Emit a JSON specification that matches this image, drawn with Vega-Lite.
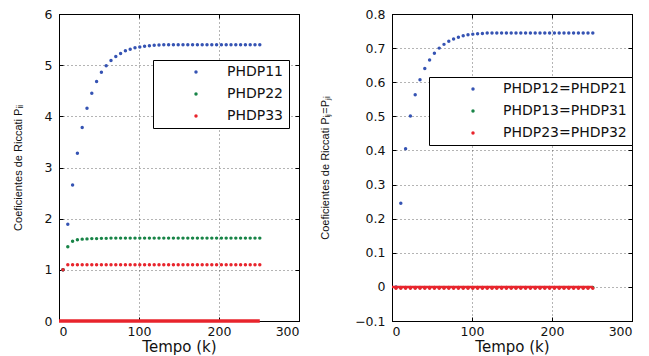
{
  "$schema": "https://vega.github.io/schema/vega-lite/v6.json",
  "background": "white",
  "padding": {"left": 11, "top": 7, "right": 0, "bottom": 0},
  "config": {
    "view": {"stroke": "black", "strokeWidth": 1},
    "axis": {
      "labelFont": "DejaVu Sans", "labelFontSize": 12.5, "labelColor": "#111",
      "domainColor": "black", "tickColor": "black", "tickSize": -4,
      "gridColor": "#444", "gridDash": [1, 3], "gridOpacity": 0.8,
      "titleFont": "DejaVu Sans", "titleFontWeight": "normal", "titleColor": "#111"
    },
    "axisX": {"labelPadding": 8},
    "axisY": {"labelPadding": 11},
    "legend": {
      "orient": "none", "title": null, "strokeColor": "black", "fillColor": "white",
      "padding": 5, "rowPadding": 8, "labelFont": "DejaVu Sans", "labelFontSize": 14,
      "labelColor": "#111", "symbolSize": 12, "symbolType": "circle", "labelLimit": 400
    }
  },
  "spacing": 93,
  "bounds": "flush",
  "resolve": {
    "scale": {"color": "independent", "x": "independent", "y": "independent"},
    "legend": {"color": "independent"}
  },
  "hconcat": [
    {
      "width": 240, "height": 307,
      "resolve": {"axis": {"x": "independent", "y": "independent"}},
      "layer": [
        {
          "data": {"values": [
            {"k":5,"PHDP11":1.0,"PHDP22":1.0,"PHDP33":1.0},
            {"k":11,"PHDP11":1.89,"PHDP22":1.45,"PHDP33":1.1},
            {"k":17,"PHDP11":2.66,"PHDP22":1.56,"PHDP33":1.1},
            {"k":23,"PHDP11":3.28,"PHDP22":1.59,"PHDP33":1.1},
            {"k":29,"PHDP11":3.78,"PHDP22":1.6,"PHDP33":1.1},
            {"k":35,"PHDP11":4.16,"PHDP22":1.605,"PHDP33":1.1},
            {"k":41,"PHDP11":4.45,"PHDP22":1.61,"PHDP33":1.1},
            {"k":47,"PHDP11":4.68,"PHDP22":1.61,"PHDP33":1.1},
            {"k":53,"PHDP11":4.86,"PHDP22":1.615,"PHDP33":1.1},
            {"k":59,"PHDP11":4.99,"PHDP22":1.615,"PHDP33":1.1},
            {"k":65,"PHDP11":5.09,"PHDP22":1.62,"PHDP33":1.1},
            {"k":71,"PHDP11":5.17,"PHDP22":1.62,"PHDP33":1.1},
            {"k":77,"PHDP11":5.23,"PHDP22":1.62,"PHDP33":1.1},
            {"k":83,"PHDP11":5.28,"PHDP22":1.62,"PHDP33":1.1},
            {"k":89,"PHDP11":5.31,"PHDP22":1.62,"PHDP33":1.1},
            {"k":95,"PHDP11":5.34,"PHDP22":1.62,"PHDP33":1.1},
            {"k":101,"PHDP11":5.355,"PHDP22":1.62,"PHDP33":1.1},
            {"k":107,"PHDP11":5.37,"PHDP22":1.62,"PHDP33":1.1},
            {"k":113,"PHDP11":5.38,"PHDP22":1.62,"PHDP33":1.1},
            {"k":119,"PHDP11":5.39,"PHDP22":1.62,"PHDP33":1.1},
            {"k":125,"PHDP11":5.395,"PHDP22":1.62,"PHDP33":1.1},
            {"k":131,"PHDP11":5.4,"PHDP22":1.62,"PHDP33":1.1},
            {"k":137,"PHDP11":5.4,"PHDP22":1.62,"PHDP33":1.1},
            {"k":143,"PHDP11":5.4,"PHDP22":1.62,"PHDP33":1.1},
            {"k":149,"PHDP11":5.4,"PHDP22":1.62,"PHDP33":1.1},
            {"k":155,"PHDP11":5.4,"PHDP22":1.62,"PHDP33":1.1},
            {"k":161,"PHDP11":5.4,"PHDP22":1.62,"PHDP33":1.1},
            {"k":167,"PHDP11":5.4,"PHDP22":1.62,"PHDP33":1.1},
            {"k":173,"PHDP11":5.4,"PHDP22":1.62,"PHDP33":1.1},
            {"k":179,"PHDP11":5.4,"PHDP22":1.62,"PHDP33":1.1},
            {"k":185,"PHDP11":5.4,"PHDP22":1.62,"PHDP33":1.1},
            {"k":191,"PHDP11":5.4,"PHDP22":1.62,"PHDP33":1.1},
            {"k":197,"PHDP11":5.4,"PHDP22":1.62,"PHDP33":1.1},
            {"k":203,"PHDP11":5.4,"PHDP22":1.62,"PHDP33":1.1},
            {"k":209,"PHDP11":5.4,"PHDP22":1.62,"PHDP33":1.1},
            {"k":215,"PHDP11":5.4,"PHDP22":1.62,"PHDP33":1.1},
            {"k":221,"PHDP11":5.4,"PHDP22":1.62,"PHDP33":1.1},
            {"k":227,"PHDP11":5.4,"PHDP22":1.62,"PHDP33":1.1},
            {"k":233,"PHDP11":5.4,"PHDP22":1.62,"PHDP33":1.1},
            {"k":239,"PHDP11":5.4,"PHDP22":1.62,"PHDP33":1.1},
            {"k":245,"PHDP11":5.4,"PHDP22":1.62,"PHDP33":1.1},
            {"k":251,"PHDP11":5.4,"PHDP22":1.62,"PHDP33":1.1}
          ]},
          "transform": [{"fold": ["PHDP11", "PHDP22", "PHDP33"], "as": ["serie", "v"]}],
          "mark": {"type": "point", "filled": true, "shape": "circle", "size": 12, "opacity": 1},
          "encoding": {
            "x": {"field": "k", "type": "quantitative",
                  "scale": {"domain": [0, 300], "nice": false},
                  "axis": {"values": [0, 100, 200, 300], "title": "Tempo (k)", "grid": true, "titleFontSize": 15, "titlePadding": 2}},
            "y": {"field": "v", "type": "quantitative",
                  "scale": {"domain": [0, 6], "nice": false},
                  "axis": {"values": [0, 1, 2, 3, 4, 5, 6], "title": "Coeficientes de Riccati Pᵢᵢ", "grid": true,
                           "titleFont": "Liberation Sans, Arial, sans-serif", "titleFontSize": 11, "titlePadding": 21}},
            "color": {"field": "serie", "type": "nominal",
                      "scale": {"domain": ["PHDP11", "PHDP22", "PHDP33"], "range": ["#3553b3", "#188447", "#e8242c"]},
                      "legend": {"legendX": 94, "legendY": 46, "symbolOffset": 31, "labelOffset": 24}}
          }
        },
        {
          "data": {"values": [{"k": 0, "v": 0}, {"k": 251, "v": 0}]},
          "mark": {"type": "line", "color": "#e8242c", "strokeWidth": 3.5},
          "encoding": {
            "x": {"field": "k", "type": "quantitative", "scale": {"domain": [0, 300], "nice": false},
                  "axis": {"orient": "top", "values": [0, 100, 200, 300], "labels": false, "title": null, "grid": false}},
            "y": {"field": "v", "type": "quantitative", "scale": {"domain": [0, 6], "nice": false},
                  "axis": {"orient": "right", "values": [0, 1, 2, 3, 4, 5, 6], "labels": false, "title": null, "grid": false}}
          }
        }
      ]
    },
    {
      "width": 240, "height": 307,
      "resolve": {"axis": {"x": "independent", "y": "independent"}},
      "layer": [
        {
          "data": {"values": [
            {"k":5,"PHDP12=PHDP21":0.0,"PHDP13=PHDP31":-0.002,"PHDP23=PHDP32":-0.004},
            {"k":11,"PHDP12=PHDP21":0.245,"PHDP13=PHDP31":-0.002,"PHDP23=PHDP32":-0.004},
            {"k":17,"PHDP12=PHDP21":0.405,"PHDP13=PHDP31":-0.002,"PHDP23=PHDP32":-0.004},
            {"k":23,"PHDP12=PHDP21":0.501,"PHDP13=PHDP31":-0.002,"PHDP23=PHDP32":-0.004},
            {"k":29,"PHDP12=PHDP21":0.563,"PHDP13=PHDP31":-0.002,"PHDP23=PHDP32":-0.004},
            {"k":35,"PHDP12=PHDP21":0.607,"PHDP13=PHDP31":-0.002,"PHDP23=PHDP32":-0.004},
            {"k":41,"PHDP12=PHDP21":0.64,"PHDP13=PHDP31":-0.002,"PHDP23=PHDP32":-0.004},
            {"k":47,"PHDP12=PHDP21":0.665,"PHDP13=PHDP31":-0.002,"PHDP23=PHDP32":-0.004},
            {"k":53,"PHDP12=PHDP21":0.685,"PHDP13=PHDP31":-0.002,"PHDP23=PHDP32":-0.004},
            {"k":59,"PHDP12=PHDP21":0.7,"PHDP13=PHDP31":-0.002,"PHDP23=PHDP32":-0.004},
            {"k":65,"PHDP12=PHDP21":0.711,"PHDP13=PHDP31":-0.002,"PHDP23=PHDP32":-0.004},
            {"k":71,"PHDP12=PHDP21":0.72,"PHDP13=PHDP31":-0.002,"PHDP23=PHDP32":-0.004},
            {"k":77,"PHDP12=PHDP21":0.727,"PHDP13=PHDP31":-0.002,"PHDP23=PHDP32":-0.004},
            {"k":83,"PHDP12=PHDP21":0.732,"PHDP13=PHDP31":-0.002,"PHDP23=PHDP32":-0.004},
            {"k":89,"PHDP12=PHDP21":0.736,"PHDP13=PHDP31":-0.002,"PHDP23=PHDP32":-0.004},
            {"k":95,"PHDP12=PHDP21":0.739,"PHDP13=PHDP31":-0.002,"PHDP23=PHDP32":-0.004},
            {"k":101,"PHDP12=PHDP21":0.741,"PHDP13=PHDP31":-0.002,"PHDP23=PHDP32":-0.004},
            {"k":107,"PHDP12=PHDP21":0.742,"PHDP13=PHDP31":-0.002,"PHDP23=PHDP32":-0.004},
            {"k":113,"PHDP12=PHDP21":0.743,"PHDP13=PHDP31":-0.002,"PHDP23=PHDP32":-0.004},
            {"k":119,"PHDP12=PHDP21":0.744,"PHDP13=PHDP31":-0.002,"PHDP23=PHDP32":-0.004},
            {"k":125,"PHDP12=PHDP21":0.744,"PHDP13=PHDP31":-0.002,"PHDP23=PHDP32":-0.004},
            {"k":131,"PHDP12=PHDP21":0.744,"PHDP13=PHDP31":-0.002,"PHDP23=PHDP32":-0.004},
            {"k":137,"PHDP12=PHDP21":0.744,"PHDP13=PHDP31":-0.002,"PHDP23=PHDP32":-0.004},
            {"k":143,"PHDP12=PHDP21":0.744,"PHDP13=PHDP31":-0.002,"PHDP23=PHDP32":-0.004},
            {"k":149,"PHDP12=PHDP21":0.744,"PHDP13=PHDP31":-0.002,"PHDP23=PHDP32":-0.004},
            {"k":155,"PHDP12=PHDP21":0.744,"PHDP13=PHDP31":-0.002,"PHDP23=PHDP32":-0.004},
            {"k":161,"PHDP12=PHDP21":0.744,"PHDP13=PHDP31":-0.002,"PHDP23=PHDP32":-0.004},
            {"k":167,"PHDP12=PHDP21":0.744,"PHDP13=PHDP31":-0.002,"PHDP23=PHDP32":-0.004},
            {"k":173,"PHDP12=PHDP21":0.744,"PHDP13=PHDP31":-0.002,"PHDP23=PHDP32":-0.004},
            {"k":179,"PHDP12=PHDP21":0.744,"PHDP13=PHDP31":-0.002,"PHDP23=PHDP32":-0.004},
            {"k":185,"PHDP12=PHDP21":0.744,"PHDP13=PHDP31":-0.002,"PHDP23=PHDP32":-0.004},
            {"k":191,"PHDP12=PHDP21":0.744,"PHDP13=PHDP31":-0.002,"PHDP23=PHDP32":-0.004},
            {"k":197,"PHDP12=PHDP21":0.744,"PHDP13=PHDP31":-0.002,"PHDP23=PHDP32":-0.004},
            {"k":203,"PHDP12=PHDP21":0.744,"PHDP13=PHDP31":-0.002,"PHDP23=PHDP32":-0.004},
            {"k":209,"PHDP12=PHDP21":0.744,"PHDP13=PHDP31":-0.002,"PHDP23=PHDP32":-0.004},
            {"k":215,"PHDP12=PHDP21":0.744,"PHDP13=PHDP31":-0.002,"PHDP23=PHDP32":-0.004},
            {"k":221,"PHDP12=PHDP21":0.744,"PHDP13=PHDP31":-0.002,"PHDP23=PHDP32":-0.004},
            {"k":227,"PHDP12=PHDP21":0.744,"PHDP13=PHDP31":-0.002,"PHDP23=PHDP32":-0.004},
            {"k":233,"PHDP12=PHDP21":0.744,"PHDP13=PHDP31":-0.002,"PHDP23=PHDP32":-0.004},
            {"k":239,"PHDP12=PHDP21":0.744,"PHDP13=PHDP31":-0.002,"PHDP23=PHDP32":-0.004},
            {"k":245,"PHDP12=PHDP21":0.744,"PHDP13=PHDP31":-0.002,"PHDP23=PHDP32":-0.004},
            {"k":251,"PHDP12=PHDP21":0.744,"PHDP13=PHDP31":-0.002,"PHDP23=PHDP32":-0.004}
          ]},
          "transform": [{"fold": ["PHDP12=PHDP21", "PHDP13=PHDP31", "PHDP23=PHDP32"], "as": ["serie", "v"]}],
          "mark": {"type": "point", "filled": true, "shape": "circle", "size": 12, "opacity": 1},
          "encoding": {
            "x": {"field": "k", "type": "quantitative",
                  "scale": {"domain": [0, 300], "nice": false},
                  "axis": {"values": [0, 100, 200, 300], "title": "Tempo (k)", "grid": true, "titleFontSize": 15, "titlePadding": 2}},
            "y": {"field": "v", "type": "quantitative",
                  "scale": {"domain": [-0.1, 0.8], "nice": false},
                  "axis": {"values": [-0.1, 0, 0.1, 0.2, 0.3, 0.4, 0.5, 0.6, 0.7, 0.8], "format": ".1~f", "title": "Coeficientes de Riccati Pᵢⱼ=Pⱼᵢ", "grid": true,
                           "titleFont": "Liberation Sans, Arial, sans-serif", "titleFontSize": 11, "titlePadding": 24}},
            "color": {"field": "serie", "type": "nominal",
                      "scale": {"domain": ["PHDP12=PHDP21", "PHDP13=PHDP31", "PHDP23=PHDP32"], "range": ["#3553b3", "#188447", "#e8242c"]},
                      "legend": {"legendX": 37, "legendY": 63, "symbolOffset": 32, "labelOffset": 23}}
          }
        },
        {
          "data": {"values": [{"k": 0, "v": 0}, {"k": 251, "v": 0}]},
          "mark": {"type": "line", "color": "#e8242c", "strokeWidth": 2.5},
          "encoding": {
            "x": {"field": "k", "type": "quantitative", "scale": {"domain": [0, 300], "nice": false},
                  "axis": {"orient": "top", "values": [0, 100, 200, 300], "labels": false, "title": null, "grid": false}},
            "y": {"field": "v", "type": "quantitative", "scale": {"domain": [-0.1, 0.8], "nice": false},
                  "axis": {"orient": "right", "values": [-0.1, 0, 0.1, 0.2, 0.3, 0.4, 0.5, 0.6, 0.7, 0.8], "labels": false, "title": null, "grid": false}}
          }
        }
      ]
    }
  ]
}
